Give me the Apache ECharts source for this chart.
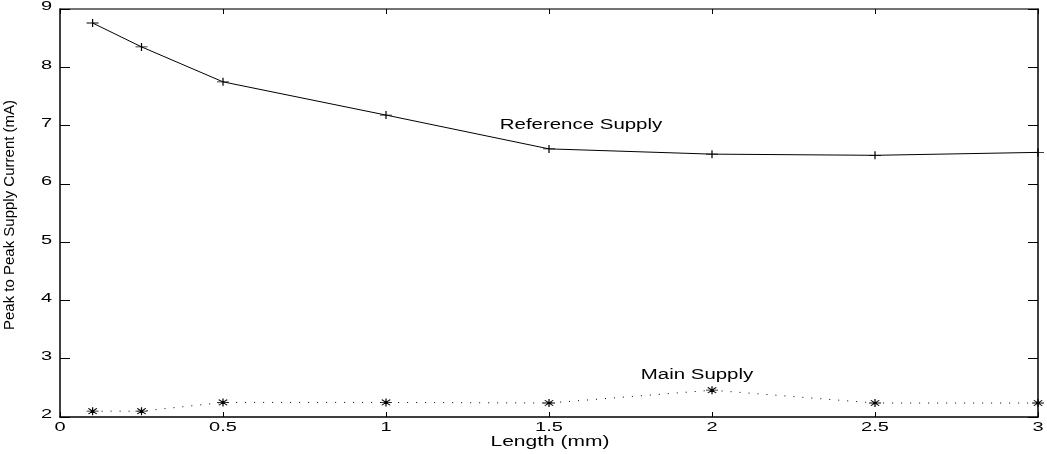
<!DOCTYPE html>
<html>
<head>
<meta charset="utf-8">
<script src="https://cdn.jsdelivr.net/npm/echarts@6/dist/echarts.min.js"></script>
<style>
  html, body { margin: 0; padding: 0; background: #fff; }
  #chart { width: 1047px; height: 454px; }
</style>
</head>
<body>
<div id="chart"></div>
<script>
// lengths (mm) where the supply current was measured
const lengths = [0.1, 0.25, 0.5, 1, 1.5, 2, 2.5, 3]
const referenceSupply = [8.76, 8.35, 7.75, 7.18, 6.60, 6.51, 6.49, 6.54]
const mainSupply = [2.10, 2.10, 2.25, 2.25, 2.24, 2.46, 2.24, 2.24]
const xTicks = [0, 0.5, 1, 1.5, 2, 2.5, 3]
const yTicks = [2, 3, 4, 5, 6, 7, 8, 9]

const FONT = '"Liberation Sans", Arial, sans-serif'
const plusSymbol = 'path://M0,5L10,5M5,0L5,10'
const starSymbol = 'path://M0,5L10,5M5,0L5,10M1.5,1.5L8.5,8.5M1.5,8.5L8.5,1.5'

const chart = echarts.init(document.getElementById('chart'))

// box axis: line + inward ticks, labels drawn separately below
function boxAxis(position, min, max, interval, tickLen, lineColor) {
  return {
    type: 'value',
    position: position,
    min: min,
    max: max,
    interval: interval,
    axisLine: { show: true, onZero: false, lineStyle: { color: lineColor, width: 1.5 } },
    axisLabel: { show: false },
    splitLine: { show: false },
    axisTick: { show: true, inside: true, length: tickLen, lineStyle: { color: '#000', width: 1 } }
  }
}

chart.setOption({
  animation: false,
  backgroundColor: '#fff',
  grid: { left: 60, right: 9, top: 9, bottom: 37 },
  xAxis: [
    boxAxis('bottom', 0, 3, 0.5, 5, '#000'),
    boxAxis('top', 0, 3, 0.5, 5, '#444')
  ],
  yAxis: [
    boxAxis('left', 2, 9, 1, 10, '#000'),
    boxAxis('right', 2, 9, 1, 10, '#000')
  ],
  series: [
    {
      name: 'Reference Supply',
      type: 'line',
      data: lengths.map((x, i) => [x, referenceSupply[i]]),
      symbol: plusSymbol,
      symbolSize: [12, 8],
      itemStyle: { color: 'none', borderColor: '#000', borderWidth: 1 },
      lineStyle: { color: '#000', width: 1 }
    },
    {
      name: 'Main Supply',
      type: 'line',
      data: lengths.map((x, i) => [x, mainSupply[i]]),
      symbol: starSymbol,
      symbolSize: [12, 8],
      itemStyle: { color: 'none', borderColor: '#000', borderWidth: 1 },
      lineStyle: { color: '#000', width: 1, type: [1, 8] }
    }
  ]
})

// tick labels and texts drawn as graphics so they can be stretched like the original
function stretchedText(text, x, y, size, align, scaleX) {
  return {
    type: 'text', x: x, y: y, scaleX: scaleX, silent: true,
    style: { text: text, font: size + 'px ' + FONT, fill: '#000', align: align, verticalAlign: 'middle' }
  }
}

const graphics = []
xTicks.forEach(v => {
  const p = chart.convertToPixel({ gridIndex: 0 }, [v, 2])
  graphics.push(stretchedText(String(v), p[0], p[1] + 11, 12.5, 'center', 1.6))
})
yTicks.forEach(v => {
  const p = chart.convertToPixel({ gridIndex: 0 }, [0, v])
  graphics.push(stretchedText(String(v), p[0] - 8, p[1] - 2, 12.5, 'right', 1.6))
})
graphics.push(stretchedText('Length (mm)', 550, 442, 14, 'center', 1.5))
graphics.push(stretchedText('Reference Supply', 581, 125, 14, 'center', 1.46))
graphics.push(stretchedText('Main Supply', 697, 375, 14, 'center', 1.46))
graphics.push({
  type: 'text', x: 10, y: 215, rotation: Math.PI / 2, silent: true,
  style: { text: 'Peak to Peak Supply Current (mA)', font: '15px ' + FONT, fill: '#000', align: 'center', verticalAlign: 'middle' }
})

chart.setOption({ graphic: graphics })
</script>
</body>
</html>
